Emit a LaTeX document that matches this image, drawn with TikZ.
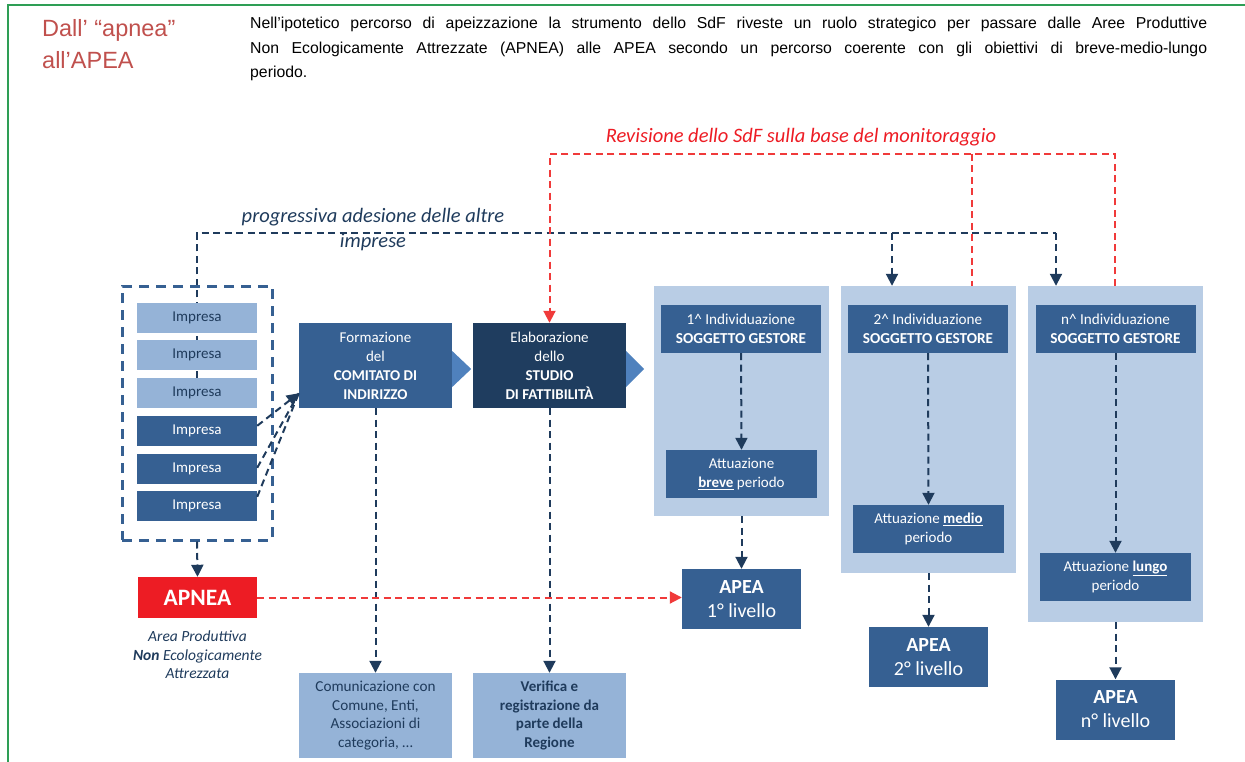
\documentclass[tikz,border=0pt]{standalone}
\usepackage{fontspec}
\setmainfont{Carlito}
\newfontfamily\arialfont{Liberation Sans}
\usetikzlibrary{arrows.meta,backgrounds}
\definecolor{bluscuro}{HTML}{366092}
\definecolor{blunotte}{HTML}{1F3D5F}
\definecolor{bluchiaro}{HTML}{95B3D7}
\definecolor{celeste}{HTML}{B9CDE5}
\definecolor{punta}{HTML}{4F81BD}
\definecolor{linea}{HTML}{1F3B5C}
\definecolor{rosso}{HTML}{ED1C24}
\definecolor{rossolinea}{HTML}{F03A3A}
\definecolor{rossotitolo}{HTML}{C0504D}
\definecolor{cornice}{HTML}{2E9E55}
\tikzset{
  impresa/.style={fill=#1, minimum width=120pt, minimum height=30pt, inner sep=0pt,
    font=\fontsize{15}{18}\selectfont},
  blocco/.style={fill=#1, text=white, inner sep=0pt, align=center},
  pannello/.style={fill=celeste, inner sep=0pt, minimum width=175pt},
  tratteggio/.style={draw=linea, line width=2pt, dash pattern=on 7pt off 4.5pt},
  freccia/.style={tratteggio, -{Triangle[length=12pt,width=12pt]}},
  trattrosso/.style={draw=rossolinea, line width=2pt, dash pattern=on 7pt off 4.5pt},
}

\begin{document}
\begin{tikzpicture}[x=1pt,y=-1pt]
        \useasboundingbox (0,0) rectangle (1245,762);
        \draw[cornice, line width=1.5pt] (1245,5) -- (8,5) -- (8,762); % cornice
        \node[anchor=west, inner sep=0pt, align=left, text=rossotitolo,
              font=\arialfont\fontsize{23.5}{32}\selectfont] (titolo) at (42,44)
              {Dall’ “apnea”\\all’APEA};
        \node[anchor=north west, inner sep=0pt, align=left,
              font=\arialfont\fontsize{15.8}{24.5}\selectfont] (intro) at (250,17)
              {\makebox[957pt][s]{Nell’ipotetico percorso di apeizzazione la strumento dello SdF riveste un ruolo strategico per passare dalle Aree Produttive}\\
               \makebox[957pt][s]{Non Ecologicamente Attrezzate (APNEA) alle APEA secondo un percorso coerente con gli obiettivi di breve-medio-lungo}\\
               periodo.};
        % imprese
        \node[draw=bluscuro, line width=3pt, dash pattern=on 10pt off 7pt,
              minimum width=150pt, minimum height=254pt] (gruppo) at (197,413) {};
        \foreach \i/\y/\c/\t in {1/318/bluchiaro/linea,2/355/bluchiaro/linea,3/393/bluchiaro/linea,
                                 4/431/bluscuro/white,5/469/bluscuro/white,6/506/bluscuro/white}
        \node[impresa=\c, text=\t] (imp\i) at (197,\y) {Impresa};
        \node[blocco=bluscuro, minimum width=153pt, minimum height=85pt,
              font=\fontsize{15}{19}\selectfont] (comitato) at (375.5,365.5)
              {Formazione\\del\\\textbf{COMITATO DI}\\\textbf{INDIRIZZO}};
        \node[blocco=blunotte, minimum width=153pt, minimum height=85pt,
              font=\fontsize{15}{19}\selectfont] (studio) at (549.5,365.5)
              {Elaborazione\\dello\\\textbf{STUDIO}\\\textbf{DI FATTIBILITÀ}};
        \fill[punta] ([yshift=14.5pt]comitato.east) -- ([yshift=-21.5pt]comitato.east)
              -- ([xshift=19pt,yshift=-3.5pt]comitato.east) -- cycle;
        \fill[punta] ([yshift=14.5pt]studio.east) -- ([yshift=-21.5pt]studio.east)
              -- ([xshift=18pt,yshift=-3.5pt]studio.east) -- cycle;
        \node[blocco=bluchiaro, text=linea, minimum width=153pt, minimum height=85pt,
              font=\fontsize{15.2}{18.5}\selectfont] (comunica) at (375.5,715.5)
              {Comunicazione con\\Comune, Enti,\\Associazioni di\\categoria, …};
        \node[blocco=bluchiaro, text=linea, minimum width=153pt, minimum height=85pt,
              font=\bfseries\fontsize{15}{18.5}\selectfont] (verifica) at (549.5,715.5)
              {Verifica e\\registrazione da\\parte della\\Regione};
        \node[blocco=rosso, minimum width=119pt, minimum height=41pt,
              font=\bfseries\fontsize{23.5}{26}\selectfont] (apnea) at (197.5,597.5) {APNEA};
        \node[align=center, inner sep=0pt, text=linea,
              font=\itshape\fontsize{15.5}{18.5}\selectfont] (nota) at (197.5,655)
              {Area Produttiva\\\textbf{Non} Ecologicamente\\Attrezzata};
        % pannelli
        \node[pannello, minimum height=230pt] (pan1) at (741.5,401) {};
        \node[pannello, minimum height=287pt] (pan2) at (928.5,429.5) {};
        \node[pannello, minimum height=336pt] (pan3) at (1115.5,454) {};
        \foreach \i/\x/\n in {1/741/1,2/928/2,3/1115.5/n}
        \node[blocco=bluscuro, minimum width=160pt, minimum height=48pt,
              font=\fontsize{15.2}{19}\selectfont] (ind\i) at (\x,329)
              {\n\^{} Individuazione\\\textbf{SOGGETTO GESTORE}};
        \node[blocco=bluscuro, minimum width=151pt, minimum height=48pt,
              font=\fontsize{15}{19}\selectfont] (att1) at (741.5,474)
              {Attuazione\\\underline{\textbf{breve}} periodo};
        \node[blocco=bluscuro, minimum width=151pt, minimum height=48pt,
              font=\fontsize{15}{19}\selectfont] (att2) at (928.5,529)
              {Attuazione \underline{\textbf{medio}}\\periodo};
        \node[blocco=bluscuro, minimum width=151pt, minimum height=48pt,
              font=\fontsize{15}{19}\selectfont] (att3) at (1115.5,577)
              {Attuazione \underline{\textbf{lungo}}\\periodo};
        \foreach \i/\x/\y/\n in {1/741.5/599/1,2/928.5/657/2,3/1115.5/709.5/n}
        \node[blocco=bluscuro, minimum width=119pt, minimum height=60pt,
              font=\fontsize{20}{24}\selectfont] (apea\i) at (\x,\y)
              {\textbf{APEA}\\\n° livello};
        % frecce
        \coordinate (ad2) at (892,233);
        \coordinate (ad3) at (1056,233);
        \begin{scope}[on background layer]
        \draw[tratteggio] (imp3) |- (ad3);
        \end{scope}
        \draw[freccia] (ad2) -- (ad2 |- pan2.north);
        \draw[freccia] (ad3) -- (ad3 |- pan3.north);
        \node[align=center, inner sep=0pt, text=linea,
              font=\itshape\fontsize{20.5}{25}\selectfont] (adesione) at (373,229.5)
              {progressiva adesione delle altre\\imprese};
        \coordinate (rv1) at (549.5,154);
        \coordinate (rv2) at (972,154);
        \coordinate (rv3) at (1115,154);
        \draw[trattrosso, -{Triangle[length=12pt,width=12pt]}] (rv3 |- pan3.north) -- (rv3)
              -- (rv1) -- (studio.north);
        \draw[trattrosso] (rv2) -- (rv2 |- pan2.north);
        \node[inner sep=0pt, text=rosso, font=\itshape\fontsize{20.5}{24}\selectfont]
              (revisione) at (801,137) {Revisione dello SdF sulla base del monitoraggio};
        \coordinate (ingresso) at ([yshift=15pt]comitato.south west);
        \draw[freccia] ([yshift=-10pt]imp4.north east) -- (ingresso);
        \draw[tratteggio] ([yshift=-14pt]imp5.north east) -- (ingresso);
        \draw[tratteggio] ([yshift=-6pt]imp6.north east) -- (ingresso);
        \draw[freccia] (gruppo.south) -- (apnea.north);
        \draw[freccia] (comitato.south) -- (comunica.north);
        \draw[freccia] (studio.south) -- (verifica.north);
        \draw[trattrosso, -{Triangle[length=12pt,width=12pt]}] (apnea.east) -- (apea1.west |- apnea.east);
        \foreach \i in {1,2,3}
        {
        \draw[freccia] (ind\i.south) -- (att\i.north);
        \draw[freccia] (pan\i.south) -- (apea\i.north);
        }
\end{tikzpicture}
\end{document}
